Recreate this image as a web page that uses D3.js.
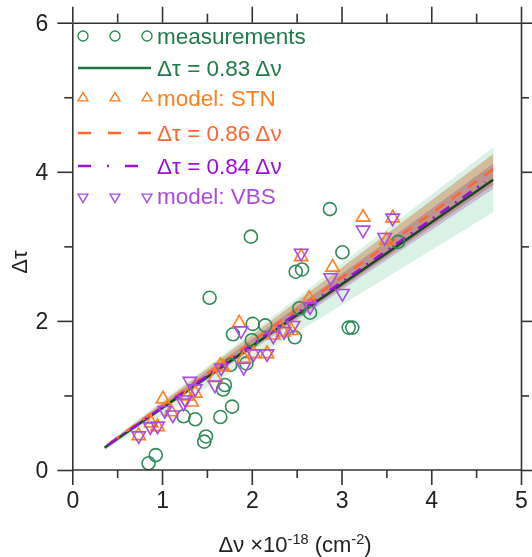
<!DOCTYPE html>
<head>
  <meta charset="utf-8">
  <script src="https://d3js.org/d3.v7.min.js"></script>
  <style>
    body { margin:0; background:#fff; }
    svg { display:block; font-family: "Liberation Sans", Arial, sans-serif; }
  </style>
</head>
<body>
  <svg width="532" height="557"></svg>
  <script>
    // data (Δν x1e-18 cm-2, Δτ)
    var measNu  = [0.85,0.93,1.24,1.37,1.47,1.49,1.65,1.78,1.68,1.70,1.76,1.79,1.53,1.99,2.01,2.15,2.00,1.94,2.48,2.49,2.56,2.53,2.65,2.87,3.01,3.08,3.12,3.63];
    var measTau = [0.09,0.20,0.72,0.68,0.38,0.45,0.71,0.85,1.08,1.14,1.41,1.82,2.31,3.13,1.96,1.94,1.74,1.43,1.78,2.66,2.69,2.17,2.11,3.50,2.92,1.91,1.91,3.06];

    var stnNu  = [0.74,0.88,0.95,1.01,1.10,1.28,1.33,1.37,1.59,1.65,1.68,1.86,1.91,2.02,2.17,2.24,2.35,2.44,2.55,2.64,2.90,3.24,3.50,3.57];
    var stnTau = [0.46,0.63,0.58,0.95,0.78,0.99,0.91,1.03,1.24,1.40,1.38,1.97,1.50,1.56,1.56,1.81,1.85,1.87,2.86,2.30,2.72,3.39,3.08,3.38];

    var vbsNu  = [0.74,0.87,0.95,1.03,1.12,1.24,1.26,1.31,1.37,1.59,1.66,1.88,1.91,2.02,2.17,2.24,2.36,2.46,2.55,2.65,2.88,3.01,3.24,3.48,3.57];
    var vbsTau = [0.46,0.58,0.59,0.80,0.74,0.90,0.94,1.19,1.09,1.14,1.37,1.87,1.38,1.56,1.56,1.80,1.86,1.94,2.91,2.19,2.58,2.37,3.22,3.12,3.38];

    // fits through origin: slope and band [low, high]
    var fitNames  = ['meas', 'stn', 'vbs'];
    var fitSlopes = [0.83, 0.86, 0.84];
    var bandLow   = [0.737, 0.815, 0.804];
    var bandHigh  = [0.923, 0.904, 0.876];
    var fitRange  = [0.36, 4.69];

    var xTicks = [0, 1, 2, 3, 4, 5];
    var yTicks = [0, 2, 4, 6];

    var legendLabels = ['measurements', 'Δτ = 0.83 Δν', 'model: STN', 'Δτ = 0.86 Δν', 'Δτ = 0.84 Δν', 'model: VBS'];

    var green = '#2e8b57', greenTxt = '#217a47';
    var orange = '#ff7f1e', orangeLine = '#ff6633';
    var purple = '#9b10d8', violet = '#a94be0';
    var font = '"Liberation Sans", Arial, sans-serif';

    var svg = d3.select('svg');
    var x = d3.scaleLinear().domain([0, 5]).range([72.3, 521]);
    var y = d3.scaleLinear().domain([0, 6]).range([470, 22.7]);

    function pts(a, b) { return a.map((v, i) => [v, b[i]]); }

    // green fit line (under the bands)
    var line = d3.line().x(d => x(d)).y(d => y(d * fitSlopes[0]));
    svg.append('path').attr('d', line(fitRange))
      .attr('stroke', '#1f7a40').attr('stroke-width', 2.6).attr('fill', 'none');

    // confidence bands
    var bandCols = ['#daf2e6', '#f5c6ac', '#e6caef'];
    fitNames.forEach((n, i) => {
      var area = d3.area().x(d => x(d))
        .y0(d => y(d * bandLow[i])).y1(d => y(d * bandHigh[i]));
      svg.append('path').attr('d', area(fitRange))
        .attr('fill', bandCols[i]).style('mix-blend-mode', 'multiply');
    });

    // model fit lines
    var lineStn = d3.line().x(d => x(d)).y(d => y(d * fitSlopes[1]));
    svg.append('path').attr('d', lineStn([0.42, fitRange[1]]))
      .attr('stroke', orangeLine).attr('stroke-width', 2.6).attr('fill', 'none')
      .attr('stroke-dasharray', '11,9');
    var lineVbs = d3.line().x(d => x(d)).y(d => y(d * fitSlopes[2]));
    svg.append('path').attr('d', lineVbs([0.40, 4.6]))
      .attr('stroke', purple).attr('stroke-width', 2.6).attr('fill', 'none')
      .attr('stroke-dasharray', '11,7,2,7');

    // markers
    var triUp = d3.symbol().type(d3.symbolTriangle).size(78);
    svg.append('g').selectAll('circle').data(pts(measNu, measTau)).join('circle')
      .attr('cx', d => x(d[0])).attr('cy', d => y(d[1])).attr('r', 6.5)
      .attr('fill', 'none').attr('stroke', green).attr('stroke-width', 1.6);
    svg.append('g').selectAll('path').data(pts(stnNu, stnTau)).join('path')
      .attr('d', triUp).attr('transform', d => 'translate(' + [x(d[0]), y(d[1])] + ')')
      .attr('fill', 'none').attr('stroke', orange).attr('stroke-width', 1.6);
    svg.append('g').selectAll('path').data(pts(vbsNu, vbsTau)).join('path')
      .attr('d', triUp).attr('transform', d => 'translate(' + [x(d[0]), y(d[1])] + ') rotate(180)')
      .attr('fill', 'none').attr('stroke', violet).attr('stroke-width', 1.6);

    // axes
    var axCol = '#333';
    function styleAx(g) {
      g.attr('font-family', font).attr('font-size', 23);
      g.selectAll('path, line').attr('stroke', axCol).attr('stroke-width', 1.6);
      g.selectAll('text').attr('fill', '#222');
    }
    var fmt = d3.format('d');
    var minorX = d3.range(0.5, 5, 1), minorY = d3.range(1, 6, 2);
    svg.append('g').attr('transform', 'translate(0,470)')
      .call(d3.axisBottom(x).tickValues(xTicks).tickSize(15).tickSizeOuter(0).tickPadding(7).tickFormat(fmt))
      .call(styleAx).call(g => g.select('.domain').attr('d', 'M' + x(0) + ',0H' + x(5)));
    svg.append('g').attr('transform', 'translate(0,470)')
      .call(d3.axisBottom(x).tickValues(minorX).tickSize(8).tickFormat(''))
      .call(styleAx).call(g => g.select('.domain').remove());
    svg.append('g').attr('transform', 'translate(0,22.7)')
      .call(d3.axisTop(x).tickValues(xTicks).tickSize(16).tickSizeOuter(0).tickFormat(''))
      .call(styleAx);
    svg.append('g').attr('transform', 'translate(0,22.7)')
      .call(d3.axisTop(x).tickValues(minorX).tickSize(9).tickFormat(''))
      .call(styleAx).call(g => g.select('.domain').remove());
    svg.append('g').attr('transform', 'translate(72.3,0)')
      .call(d3.axisLeft(y).tickValues(yTicks).tickSize(15).tickSizeOuter(0).tickPadding(9).tickFormat(fmt))
      .call(styleAx);
    svg.append('g').attr('transform', 'translate(72.3,0)')
      .call(d3.axisLeft(y).tickValues(minorY).tickSize(8).tickFormat(''))
      .call(styleAx).call(g => g.select('.domain').remove());
    svg.append('g').attr('transform', 'translate(521,0)')
      .call(d3.axisRight(y).tickValues(yTicks).tickSize(15).tickSizeOuter(0).tickFormat(''))
      .call(styleAx);
    svg.append('g').attr('transform', 'translate(521,0)')
      .call(d3.axisRight(y).tickValues(minorY).tickSize(8).tickFormat(''))
      .call(styleAx).call(g => g.select('.domain').remove());

    // axis titles
    svg.append('text').attr('transform', 'translate(19,262) rotate(-90)')
      .attr('text-anchor', 'middle').attr('dy', '0.35em').attr('font-size', 22).attr('fill', '#222').text('Δτ');
    var xt = svg.append('text').attr('x', 295).attr('y', 552).attr('text-anchor', 'middle')
      .attr('font-size', 22).attr('fill', '#222');
    xt.append('tspan').text('Δν ×10');
    xt.append('tspan').attr('font-size', 14.5).attr('dy', -8).text('-18');
    xt.append('tspan').attr('dy', 8).text(' (cm');
    xt.append('tspan').attr('font-size', 14.5).attr('dy', -8).text('-2');
    xt.append('tspan').attr('dy', 8).text(')');

    // legend
    var legY = [36, 68, 98, 133, 166, 196];
    var legCol = [greenTxt, greenTxt, orange, orangeLine, purple, violet];
    var symX = [83, 115, 147];
    var lg = svg.append('g');
    var smallTri = d3.symbol().type(d3.symbolTriangle).size(42);
    symX.forEach(sx => {
      lg.append('circle').attr('cx', sx).attr('cy', legY[0]).attr('r', 5)
        .attr('fill', 'none').attr('stroke', green).attr('stroke-width', 1.4);
      lg.append('path').attr('d', smallTri).attr('transform', 'translate(' + [sx, legY[2]] + ')')
        .attr('fill', 'none').attr('stroke', orange).attr('stroke-width', 1.4);
      lg.append('path').attr('d', smallTri).attr('transform', 'translate(' + [sx, legY[5] + 1] + ') rotate(180)')
        .attr('fill', 'none').attr('stroke', violet).attr('stroke-width', 1.4);
    });
    lg.append('line').attr('x1', 78).attr('x2', 151).attr('y1', legY[1]).attr('y2', legY[1])
      .attr('stroke', '#1f7a40').attr('stroke-width', 2.6);
    lg.append('line').attr('x1', 78).attr('x2', 151).attr('y1', legY[3]).attr('y2', legY[3])
      .attr('stroke', orangeLine).attr('stroke-width', 2.6).attr('stroke-dasharray', '13,17');
    lg.append('line').attr('x1', 78).attr('x2', 140).attr('y1', legY[4]).attr('y2', legY[4])
      .attr('stroke', purple).attr('stroke-width', 2.6).attr('stroke-dasharray', '13,16,2,16');
    lg.selectAll('text').data(legendLabels).join('text')
      .attr('x', 157).attr('y', (d, i) => legY[i]).attr('dy', '0.35em')
      .attr('font-size', 22.5).attr('fill', (d, i) => legCol[i]).text(d => d);
  </script>
</body>
